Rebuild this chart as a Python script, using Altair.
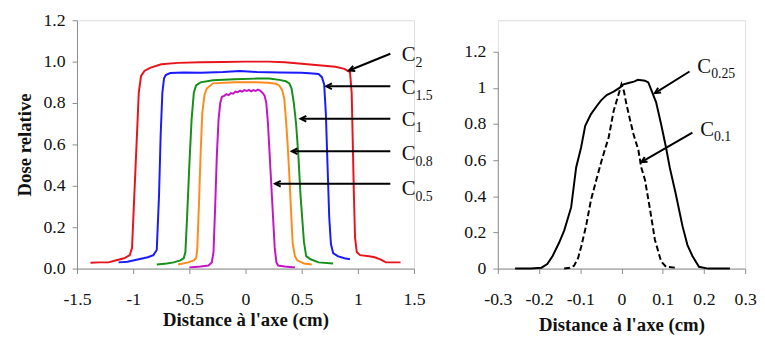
import math
import altair as alt
import pandas as pd

FONT = "Liberation Serif"

# ---------------- Left panel data ----------------
c2_x = [-1.38, -1.30, -1.22, -1.15, -1.08, -1.03, -1.01, -0.99, -0.97, -0.95, -0.93, -0.90, -0.85, -0.75, -0.60,
        -0.40, -0.20, 0.0, 0.20, 0.35, 0.50, 0.65, 0.80, 0.88, 0.91, 0.93, 0.945, 0.955, 0.965, 0.975, 0.99, 1.02,
        1.10, 1.15, 1.20, 1.25, 1.30, 1.38]
c2_y = [0.028, 0.03, 0.03, 0.04, 0.05, 0.065, 0.10, 0.35, 0.60, 0.85, 0.93, 0.955, 0.97, 0.987, 0.994,
        0.997, 0.998, 1.0, 1.0, 0.997, 0.99, 0.983, 0.975, 0.965, 0.955, 0.95, 0.85, 0.6, 0.35, 0.15, 0.08, 0.065,
        0.06, 0.055, 0.045, 0.03, 0.03, 0.03]

c15_x = [-1.13, -1.05, -0.95, -0.87, -0.82, -0.79, -0.77, -0.755, -0.74, -0.725, -0.71, -0.67, -0.55, -0.40,
         -0.20, -0.05, 0.10, 0.30, 0.50, 0.60, 0.65, 0.68, 0.70, 0.715, 0.73, 0.745, 0.76, 0.78, 0.82, 0.88, 0.93]
c15_y = [0.03, 0.033, 0.045, 0.055, 0.065, 0.09, 0.35, 0.65, 0.85, 0.92, 0.935, 0.945, 0.947, 0.946,
         0.95, 0.955, 0.95, 0.948, 0.946, 0.943, 0.94, 0.925, 0.89, 0.75, 0.5, 0.25, 0.12, 0.075, 0.06, 0.05, 0.045]

c1_x = [-0.79, -0.70, -0.64, -0.58, -0.55, -0.535, -0.52, -0.50, -0.48, -0.46, -0.44, -0.40, -0.29, -0.10, 0.10,
        0.21, 0.30, 0.36, 0.39, 0.41, 0.43, 0.45, 0.47, 0.49, 0.52, 0.54, 0.58, 0.65, 0.78]
c1_y = [0.02, 0.025, 0.03, 0.04, 0.05, 0.08, 0.25, 0.5, 0.72, 0.85, 0.885, 0.9, 0.91, 0.915, 0.918,
        0.918, 0.912, 0.905, 0.895, 0.87, 0.80, 0.70, 0.55, 0.35, 0.13, 0.06, 0.045, 0.03, 0.025]

c08_x = [-0.60, -0.51, -0.46, -0.44, -0.43, -0.415, -0.40, -0.385, -0.365, -0.345, -0.29, -0.10, 0.10, 0.20,
         0.27, 0.30, 0.325, 0.345, 0.36, 0.375, 0.39, 0.405, 0.42, 0.44, 0.46, 0.52, 0.59]
c08_y = [0.02, 0.03, 0.04, 0.05, 0.09, 0.3, 0.55, 0.75, 0.84, 0.87, 0.895, 0.9, 0.9, 0.898,
         0.893, 0.885, 0.865, 0.82, 0.72, 0.6, 0.45, 0.28, 0.12, 0.06, 0.04, 0.025, 0.02]

c05_x = [-0.50, -0.40, -0.33, -0.30, -0.285, -0.27, -0.255, -0.24, -0.225, -0.21, -0.19, -0.17, -0.15, -0.13,
         -0.11, -0.09, -0.07, -0.05, -0.03, -0.01, 0.01, 0.03, 0.05, 0.07, 0.09, 0.11, 0.13, 0.15, 0.17, 0.185,
         0.20, 0.215, 0.23, 0.245, 0.26, 0.275, 0.29, 0.35, 0.44]
c05_y = [0.005, 0.01, 0.015, 0.03, 0.08, 0.3, 0.55, 0.72, 0.8, 0.83, 0.835, 0.843, 0.838, 0.848,
         0.845, 0.855, 0.852, 0.86, 0.855, 0.862, 0.858, 0.863, 0.856, 0.862, 0.858, 0.865, 0.86, 0.85, 0.835, 0.8,
         0.7, 0.55, 0.4, 0.25, 0.1, 0.03, 0.015, 0.01, 0.005]

left_series = ["C2", "C1.5", "C1", "C0.8", "C0.5"]
left_colors = ["#e8141c", "#1a1aff", "#169016", "#ff8c1a", "#c414c4"]

# annotations (left): label subscript, arrow start/end, label position
left_subs = ["2", "1.5", "1", "0.8", "0.5"]
left_arrow_x1 = [1.289, 1.289, 1.289, 1.289, 1.289]
left_arrow_y1 = [1.038, 0.881, 0.724, 0.567, 0.410]
left_arrow_x2 = [0.921, 0.719, 0.491, 0.412, 0.263]
left_arrow_y2 = [0.957, 0.881, 0.724, 0.567, 0.410]
left_label_x = [1.39, 1.39, 1.39, 1.39, 1.39]
left_label_y = [1.03, 0.874, 0.717, 0.555, 0.385]

# ---------------- Right panel data ----------------
c025_x = [-0.258, -0.22, -0.194, -0.18, -0.167, -0.152, -0.139, -0.122, -0.11, -0.098, -0.088, -0.074, -0.06,
          -0.05, -0.036, -0.019, -0.005, 0.005, 0.017, 0.03, 0.04, 0.057, 0.065, 0.072, 0.084, 0.096, 0.108, 0.117,
          0.131, 0.148, 0.16, 0.172, 0.188, 0.21, 0.263]
c025_y = [0.0, 0.0, 0.005, 0.025, 0.07, 0.14, 0.21, 0.34, 0.56, 0.67, 0.79, 0.855, 0.9,
          0.93, 0.96, 0.98, 1.0, 1.02, 1.027, 1.035, 1.045, 1.04, 1.03, 0.99, 0.92, 0.80, 0.67, 0.56,
          0.42, 0.235, 0.13, 0.07, 0.01, 0.0, 0.0]

c01_x = [-0.139, -0.125, -0.115, -0.105, -0.098, -0.086, -0.074, -0.06, -0.048, -0.031, -0.019, -0.007, 0.0,
         0.006, 0.012, 0.02, 0.029, 0.041, 0.048, 0.057, 0.069, 0.081, 0.096, 0.108, 0.131]
c01_y = [0.0, 0.005, 0.016, 0.06, 0.12, 0.235, 0.38, 0.5, 0.6, 0.727, 0.873, 0.965, 1.02,
         0.98, 0.91, 0.83, 0.745, 0.655, 0.56, 0.49, 0.33, 0.16, 0.04, 0.01, 0.005]

right_subs = ["0.25", "0.1"]
right_arrow_x1 = [0.165, 0.172]
right_arrow_y1 = [1.091, 0.753]
right_arrow_x2 = [0.081, 0.048]
right_arrow_y2 = [0.971, 0.589]
right_label_x = [0.184, 0.191]
right_label_y = [1.118, 0.769]

# ---------------- geometry ----------------
LW, LH = 342, 252
RW, RH = 251, 252
R_TOP = 32  # right y-axis top (pixels inside the panel)

ARROW_PATH = "M-1,-0.5L0,0L-1,0.5"


def angles(x1, y1, x2, y2, sx, sy):
    out = []
    for a, b, c, d in zip(x1, y1, x2, y2):
        dx = (c - a) * sx
        dy = -(d - b) * sy
        ang = math.degrees(math.atan2(dy, dx)) % 360
        out.append(ang)
    return out


# left dataframe
rows = []
for name, xs, ys in zip(left_series, [c2_x, c15_x, c1_x, c08_x, c05_x], [c2_y, c15_y, c1_y, c08_y, c05_y]):
    for i, (a, b) in enumerate(zip(xs, ys)):
        rows.append({"s": name, "x": a, "y": b, "o": i})
left_df = pd.DataFrame(rows)

left_ann = pd.DataFrame({
    "x1": left_arrow_x1, "y1": left_arrow_y1, "x2": left_arrow_x2, "y2": left_arrow_y2,
    "lx": left_label_x, "ly": left_label_y, "sub": left_subs,
    "ang": angles(left_arrow_x1, left_arrow_y1, left_arrow_x2, left_arrow_y2, LW / 3.0, LH / 1.2),
})

right_ann = pd.DataFrame({
    "x1": right_arrow_x1, "y1": right_arrow_y1, "x2": right_arrow_x2, "y2": right_arrow_y2,
    "lx": right_label_x, "ly": right_label_y, "sub": right_subs,
    "ang": angles(right_arrow_x1, right_arrow_y1, right_arrow_x2, right_arrow_y2, RW / 0.6, (RH - R_TOP) / 1.2),
})

AXC = "#8c8c8c"


def xaxis(values, title_pad):
    return alt.Axis(values=values, title="Distance à l'axe (cm)", grid=False,
                    labelExpr="replace(format(datum.value, '~g'), '−', '-')",
                    domainColor=AXC, tickColor=AXC, tickSize=5, labelPadding=17,
                    labelFontSize=18, labelFont=FONT, labelColor="#111",
                    titleFont=FONT, titleFontSize=19, titleFontWeight="bold", titleColor="#111",
                    titlePadding=title_pad, labelFlush=False)


def yaxis(fmt, title):
    kw = {}
    if title is None:
        kw["title"] = None
    else:
        kw["title"] = title
    return alt.Axis(values=[0, 0.2, 0.4, 0.6, 0.8, 1.0, 1.2], grid=False,
                    labelExpr=f"format(datum.value, '{fmt}')",
                    domainColor=AXC, tickColor=AXC, tickSize=5, labelPadding=7,
                    labelFontSize=18, labelFont=FONT, labelColor="#111",
                    titleFont=FONT, titleFontSize=19, titleFontWeight="bold", titleColor="#111",
                    titlePadding=9, labelFlush=False, **kw)


lx_scale = alt.Scale(domain=[-1.5, 1.5], nice=False, zero=False)
ly_scale = alt.Scale(domain=[0, 1.2], nice=False)

left_lines = alt.Chart(left_df).mark_line(strokeWidth=2, clip=True).encode(
    x=alt.X("x:Q", scale=lx_scale, axis=xaxis([-1.5, -1, -0.5, 0, 0.5, 1, 1.5], 3)),
    y=alt.Y("y:Q", scale=ly_scale, axis=yaxis(".1f", "Dose relative")),
    color=alt.Color("s:N", scale=alt.Scale(domain=left_series, range=left_colors), legend=None),
    detail="s:N",
    order="o:Q",
)

def annotations(df, xs, ys):
    rule = alt.Chart(df).mark_rule(color="black", strokeWidth=2).encode(
        x=alt.X("x1:Q", scale=xs), y=alt.Y("y1:Q", scale=ys), x2="x2:Q", y2="y2:Q")
    head = alt.Chart(df).mark_point(shape=ARROW_PATH, filled=False, color="black", strokeWidth=2,
                                    size=130, opacity=1).encode(
        x=alt.X("x2:Q", scale=xs), y=alt.Y("y2:Q", scale=ys), angle=alt.Angle("ang:Q", scale=None))
    c_txt = alt.Chart(df).mark_text(text="C", font=FONT, fontSize=21, align="left", baseline="middle",
                                    color="#111").encode(
        x=alt.X("lx:Q", scale=xs), y=alt.Y("ly:Q", scale=ys))
    s_txt = alt.Chart(df).mark_text(font=FONT, fontSize=14, align="left", baseline="middle", dx=14, dy=8,
                                    color="#111").encode(
        x=alt.X("lx:Q", scale=xs), y=alt.Y("ly:Q", scale=ys), text="sub:N")
    return [rule, head, c_txt, s_txt]

left = alt.layer(left_lines, *annotations(left_ann, lx_scale, ly_scale)).properties(width=LW, height=LH)

rx_scale = alt.Scale(domain=[-0.3, 0.3], nice=False, zero=False)
ry_scale = alt.Scale(domain=[0, 1.2], nice=False, range=[RH, R_TOP])

r025 = pd.DataFrame({"x": c025_x, "y": c025_y, "o": list(range(len(c025_x)))})
r01 = pd.DataFrame({"x": c01_x, "y": c01_y, "o": list(range(len(c01_x)))})

right_solid = alt.Chart(r025).mark_line(strokeWidth=2, color="black").encode(
    x=alt.X("x:Q", scale=rx_scale, axis=xaxis([-0.3, -0.2, -0.1, 0, 0.1, 0.2, 0.3], 8)),
    y=alt.Y("y:Q", scale=ry_scale, axis=yaxis("~g", None)),
    order="o:Q",
)
right_dash = alt.Chart(r01).mark_line(strokeWidth=2, color="black", strokeDash=[6, 3]).encode(
    x=alt.X("x:Q", scale=rx_scale), y=alt.Y("y:Q", scale=ry_scale), order="o:Q")

right = alt.layer(right_solid, right_dash, *annotations(right_ann, rx_scale, ry_scale)).properties(
    width=RW, height=RH)

chart = alt.hconcat(left, right, spacing=85, bounds="flush").properties(
    padding={"left": 7, "top": 0, "right": 0, "bottom": 0}
).configure_view(stroke=None).configure(background="white")

chart.save("out.html", embed_options={"renderer": "svg", "actions": False})
